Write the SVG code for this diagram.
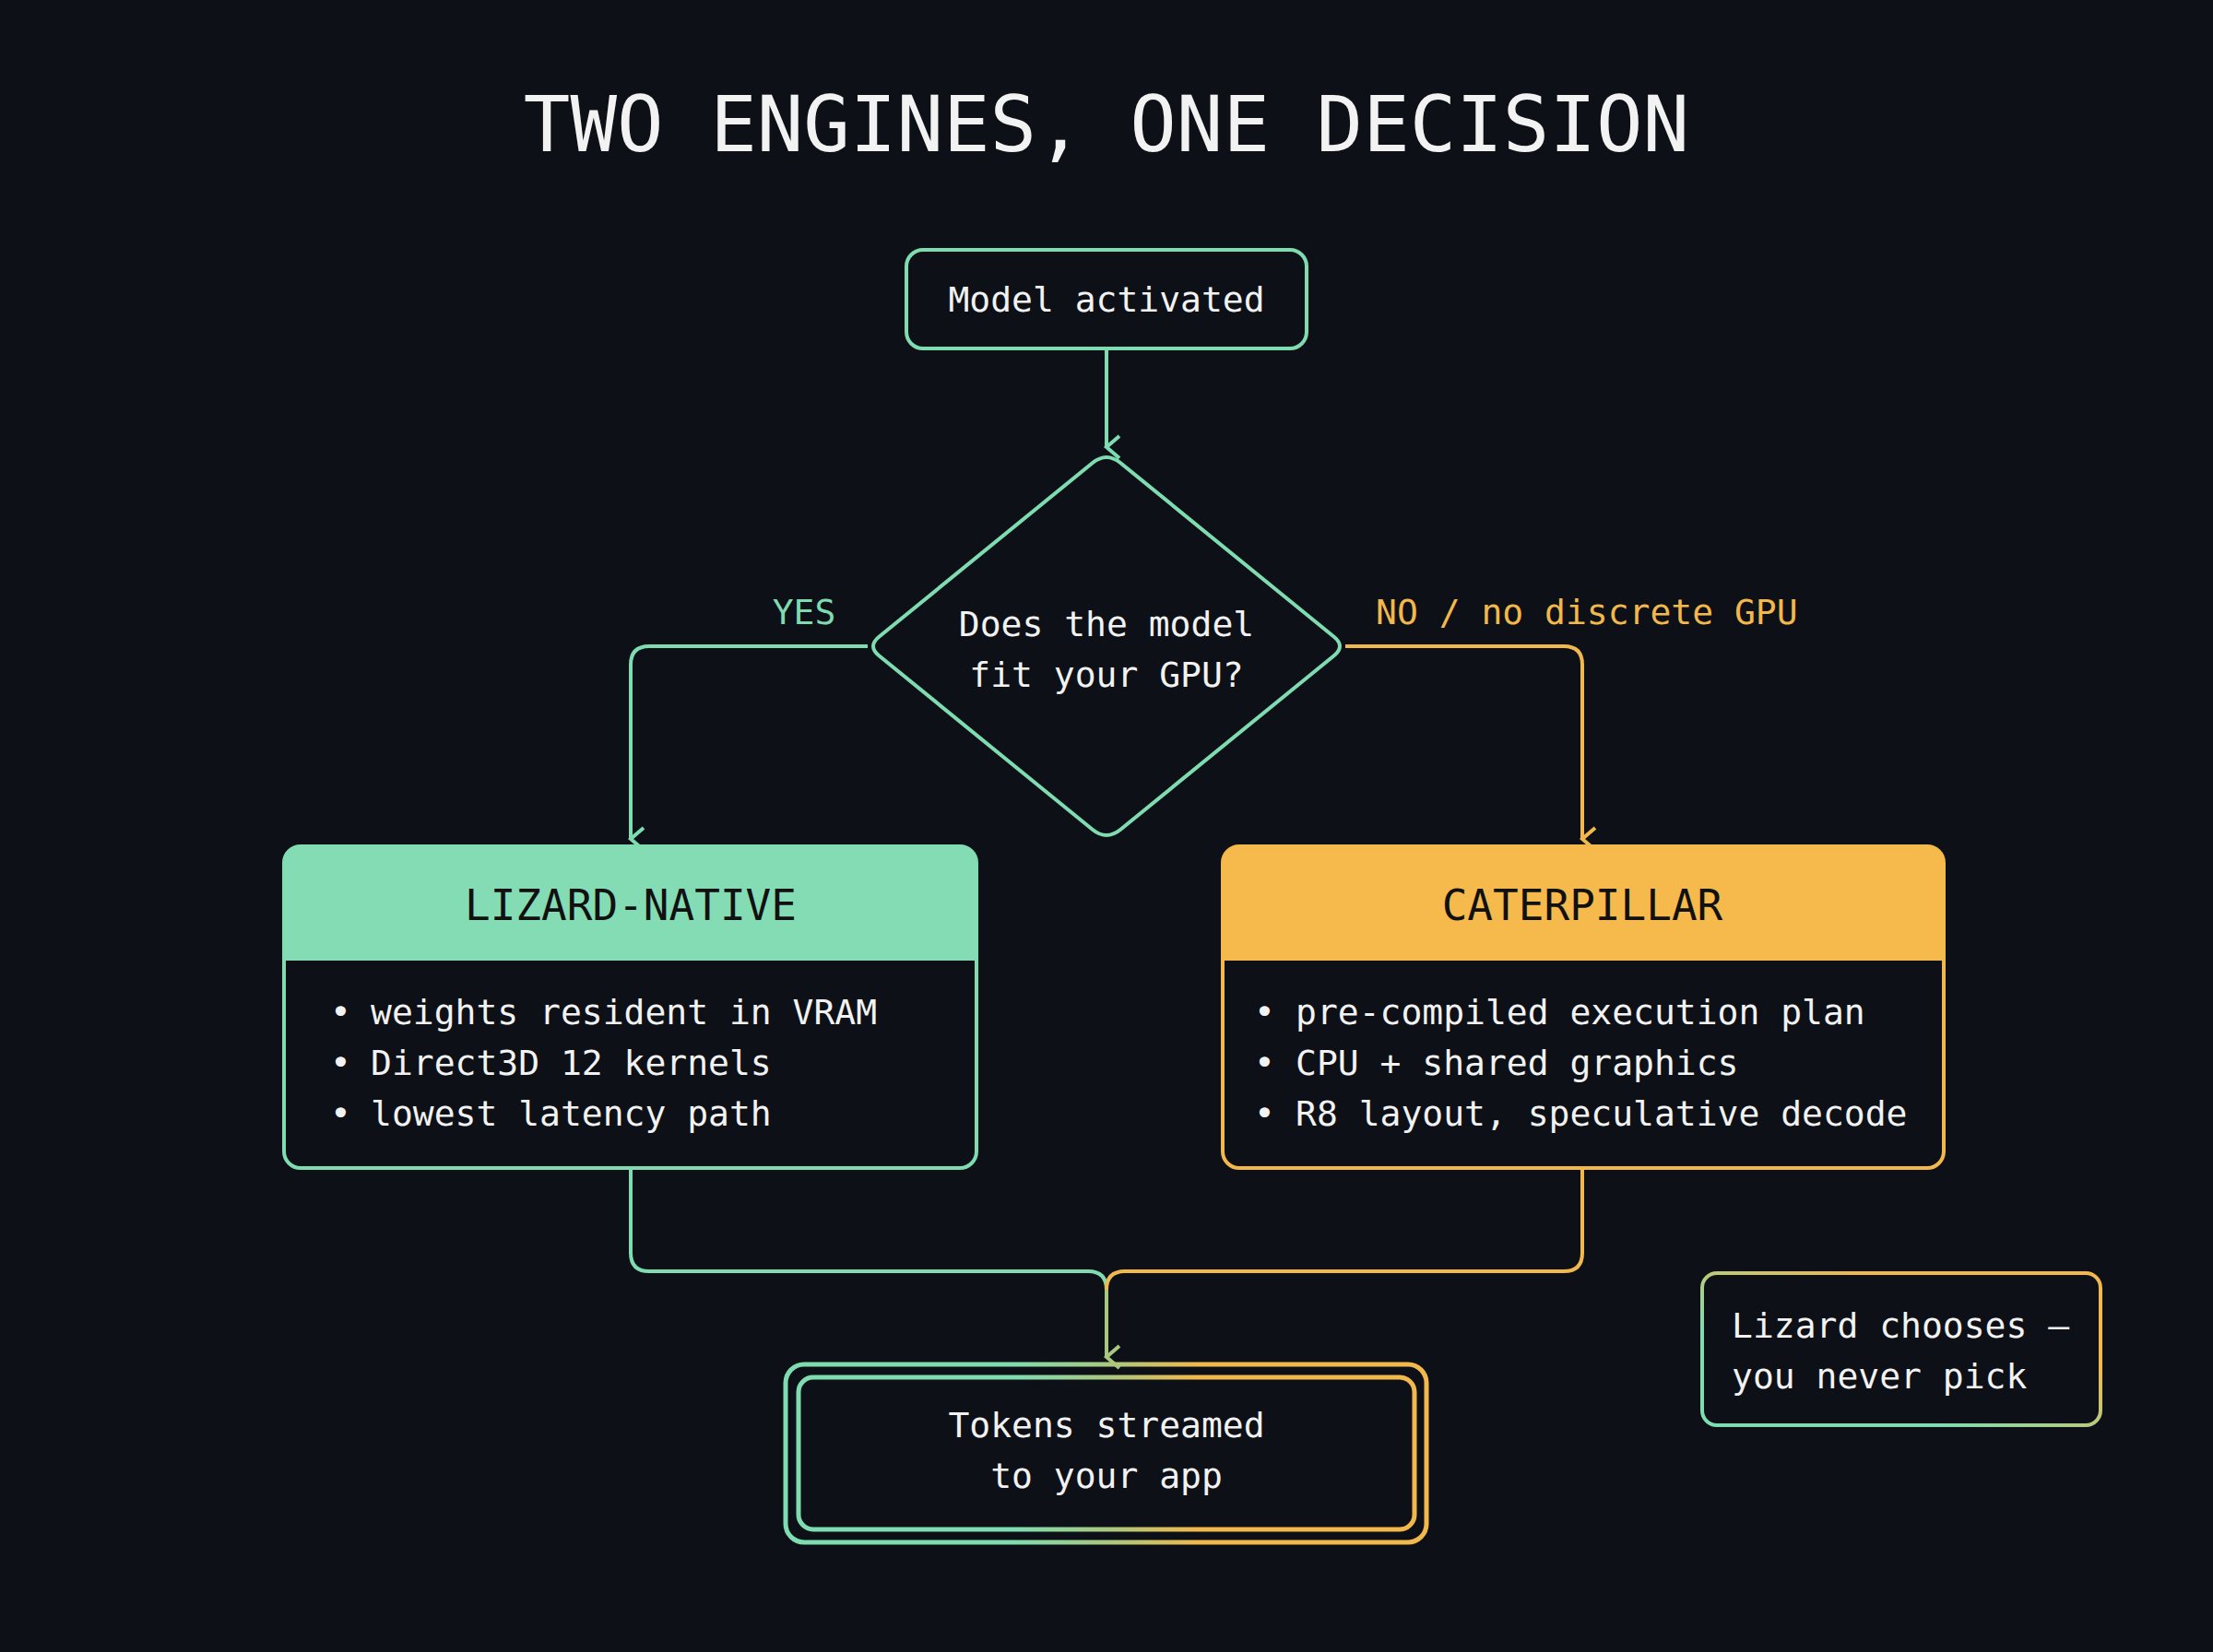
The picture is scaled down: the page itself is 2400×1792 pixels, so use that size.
<svg xmlns="http://www.w3.org/2000/svg" width="2400" height="1792" viewBox="0 0 2400 1792">
<style>
text{font-family:"DejaVu Sans Mono","Liberation Mono",monospace;fill:#f2f2f2}
.t{font-size:38px}
.g{stroke:#7fdcb0;fill:none;stroke-width:4}
.o{stroke:#f2b84b;fill:none;stroke-width:4}
.h{font-size:46px;fill:#111;text-anchor:middle}
</style>
<defs>
<marker id="ag" markerWidth="30" markerHeight="30" refX="15" refY="22" orient="auto-start-reverse" markerUnits="userSpaceOnUse" viewBox="0 0 30 30"><path d="M3 8 L15 22 L27 8" fill="none" stroke="#7fdcb0" stroke-width="4"/></marker>
<marker id="ao" markerWidth="30" markerHeight="30" refX="15" refY="22" orient="auto" markerUnits="userSpaceOnUse" viewBox="0 0 30 30"><path d="M3 8 L15 22 L27 8" fill="none" stroke="#f2b84b" stroke-width="4"/></marker>
<marker id="am" markerWidth="30" markerHeight="30" refX="15" refY="22" orient="auto" markerUnits="userSpaceOnUse" viewBox="0 0 30 30"><path d="M3 8 L15 22 L27 8" fill="none" stroke="#a8c880" stroke-width="4"/></marker>
<linearGradient id="gr" x1="0" x2="1" y1="0" y2="0">
<stop offset="0" stop-color="#7fdcb0"/><stop offset="0.35" stop-color="#7fdcb0"/><stop offset="0.5" stop-color="#a8c880"/><stop offset="0.65" stop-color="#f2b84b"/><stop offset="1" stop-color="#f2b84b"/></linearGradient>
<linearGradient id="gn" x1="0" x2="1" y1="1" y2="0">
<stop offset="0.3" stop-color="#7fdcb0"/><stop offset="0.7" stop-color="#f2b84b"/></linearGradient>
</defs>
<rect width="2400" height="1792" fill="#0d1117"/>
<text x="1200" y="164" font-size="84" text-anchor="middle">TWO ENGINES, ONE DECISION</text>
<g id="connectors">
<path class="g" d="M1200 378 V485" marker-end="url(#ag)"/>
<path class="g" d="M941 701 H704 Q684 701 684 721 V910" marker-end="url(#ag)"/>
<path class="o" d="M1459 701 H1696 Q1716 701 1716 721 V910" marker-end="url(#ao)"/>
<path class="g" d="M684 1267 V1359 Q684 1379 704 1379 H1180 Q1200 1379 1200 1399"/>
<path class="o" d="M1716 1267 V1359 Q1716 1379 1696 1379 H1220 Q1200 1379 1200 1399"/>
<path d="M1200 1399 V1472" stroke="#a8c880" stroke-width="4" fill="none" marker-end="url(#am)"/>
<text x="872" y="677" font-size="38" text-anchor="middle" style="fill:#7fdcb0">YES</text>
<text x="1492" y="677" font-size="38" style="fill:#f2b84b">NO / no discrete GPU</text>
</g>
<g id="start">
<rect x="983" y="271" width="434" height="107" rx="18" class="g"/>
<text x="1200" y="338" class="t" text-anchor="middle">Model activated</text>
</g>
<g id="decision">
<path class="g" stroke-linejoin="round" d="M1185 502 Q1200 490 1215 502 L1447 691 Q1459 701 1447 711 L1215 900 Q1200 912 1185 900 L953 711 Q941 701 953 691 Z"/>
<text x="1200" y="690" class="t" text-anchor="middle">Does the model</text>
<text x="1200" y="745" class="t" text-anchor="middle">fit your GPU?</text>
</g>
<g id="lizard">
<rect x="308" y="918" width="751" height="349" rx="18" fill="#0d1117" class="g"/>
<path d="M326 918 H1041 Q1059 918 1059 936 V1042 H308 V936 Q308 918 326 918 Z" fill="#84dcb4"/>
<text x="684" y="998" class="h">LIZARD-NATIVE</text>
<text x="358" y="1111" class="t">•</text><text x="402" y="1111" class="t">weights resident in VRAM</text>
<text x="358" y="1166" class="t">•</text><text x="402" y="1166" class="t">Direct3D 12 kernels</text>
<text x="358" y="1221" class="t">•</text><text x="402" y="1221" class="t">lowest latency path</text>
</g>
<g id="caterpillar">
<rect x="1326" y="918" width="782" height="349" rx="18" fill="#0d1117" class="o"/>
<path d="M1344 918 H2090 Q2108 918 2108 936 V1042 H1326 V936 Q1326 918 1344 918 Z" fill="#f5b94c"/>
<text x="1716" y="998" class="h">CATERPILLAR</text>
<text x="1360" y="1111" class="t">•</text><text x="1405" y="1111" class="t">pre-compiled execution plan</text>
<text x="1360" y="1166" class="t">•</text><text x="1405" y="1166" class="t">CPU + shared graphics</text>
<text x="1360" y="1221" class="t">•</text><text x="1405" y="1221" class="t">R8 layout, speculative decode</text>
</g>
<g id="output">
<rect x="852" y="1480" width="695" height="193" rx="20" fill="none" stroke="url(#gr)" stroke-width="5"/>
<rect x="866" y="1494" width="668" height="165" rx="16" fill="none" stroke="url(#gr)" stroke-width="5"/>
<text x="1200" y="1559" class="t" text-anchor="middle">Tokens streamed</text>
<text x="1200" y="1614" class="t" text-anchor="middle">to your app</text>
</g>
<g id="note">
<rect x="1846" y="1381" width="432" height="165" rx="16" fill="none" stroke="url(#gn)" stroke-width="4"/>
<text x="1878" y="1451" class="t">Lizard chooses –</text>
<text x="1878" y="1506" class="t">you never pick</text>
</g>
</svg>
